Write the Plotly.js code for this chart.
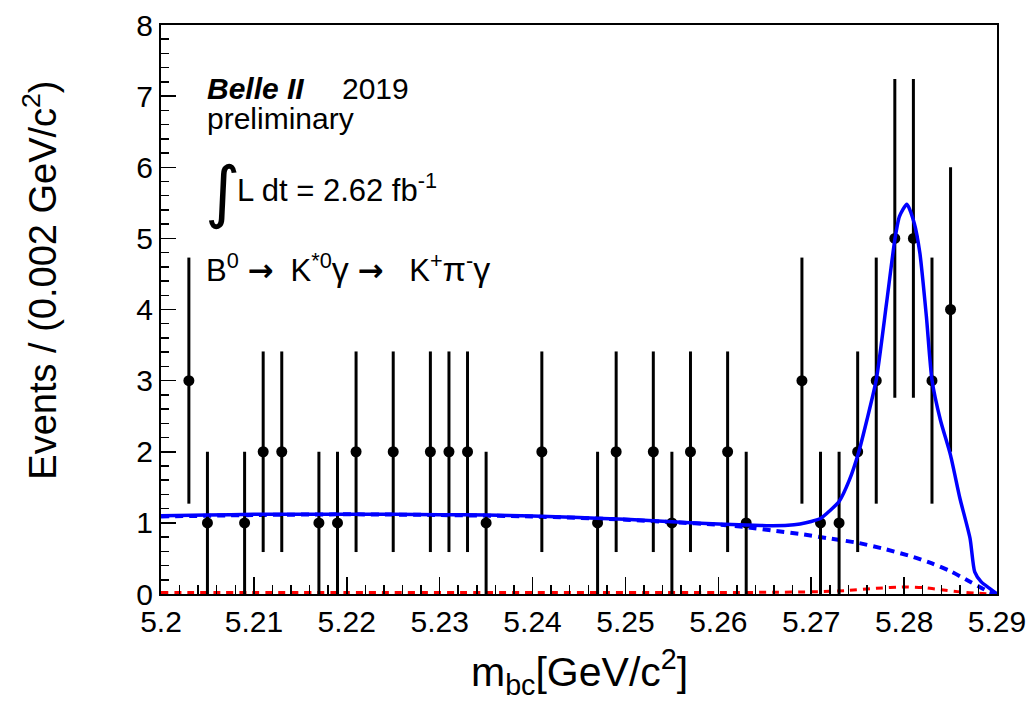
<!DOCTYPE html>
<html>
<head>
<meta charset="utf-8">
<script src="https://cdn.plot.ly/plotly-3.0.1.min.js"></script>
<style>html,body{margin:0;padding:0;background:#fff;}#chart{width:1036px;height:701px;}</style>
</head>
<body>
<div id="chart"></div>
<script>
// Data points (bin centres, bin width 0.002 GeV/c^2)
var binCenters = [5.203,5.205,5.209,5.211,5.213,5.217,5.219,5.221,5.225,5.229,5.231,5.233,5.235,5.241,5.247,5.249,5.253,5.255,5.257,5.261,5.263,5.269,5.271,5.273,5.275,5.277,5.279,5.281,5.283,5.285];
var eventCounts = [3,1,1,2,2,1,1,2,2,2,2,2,1,2,1,2,2,1,2,2,1,3,1,1,2,3,5,5,3,4];
var eventErrors = [1.73,1,1,1.41,1.41,1,1,1.41,1.41,1.41,1.41,1.41,1,1.41,1,1.41,1.41,1,1.41,1.41,1,1.73,1,1,1.41,1.73,2.24,2.24,1.73,2];

// Total fit curve
var totalX = [5.200,5.205,5.210,5.215,5.220,5.225,5.230,5.235,5.240,5.245,5.250,5.255,5.260,5.263,5.2655,5.2675,5.2688,5.270,5.2711,5.272,5.273,5.2741,5.2751,5.276,5.277,5.2781,5.279,5.2795,5.2803,5.2811,5.2817,5.2824,5.283,5.2839,5.285,5.286,5.2871,5.2876,5.2883,5.2892,5.290];
var totalY = [1.10,1.11,1.12,1.12,1.12,1.12,1.115,1.11,1.095,1.075,1.05,1.015,0.985,0.97,0.96,0.965,0.985,1.02,1.07,1.17,1.30,1.60,1.99,2.45,3.01,4.08,4.98,5.31,5.48,5.21,4.79,3.90,3.01,2.45,1.95,1.35,0.78,0.31,0.17,0.08,0.0];

// Background component (blue dashed)
var bkgX = [5.200,5.210,5.220,5.230,5.240,5.250,5.255,5.260,5.263,5.266,5.269,5.272,5.275,5.278,5.281,5.283,5.285,5.287,5.288,5.289,5.290];
var bkgY = [1.09,1.11,1.12,1.11,1.09,1.045,1.01,0.975,0.94,0.89,0.84,0.78,0.72,0.63,0.52,0.43,0.32,0.18,0.11,0.04,0.0];

// Peaking background component (red dashed)
var peakX = [5.200,5.220,5.240,5.260,5.266,5.270,5.274,5.277,5.280,5.282,5.284,5.286,5.288,5.290];
var peakY = [0.02,0.02,0.02,0.02,0.025,0.03,0.05,0.08,0.10,0.09,0.06,0.03,0.01,0.0];

var xTickVals = [5.2,5.21,5.22,5.23,5.24,5.25,5.26,5.27,5.28,5.29];
var xTickText = ['5.2','5.21','5.22','5.23','5.24','5.25','5.26','5.27','5.28','5.29'];
var yTickVals = [0,1,2,3,4,5,6,7,8];

var FONT = 'Liberation Sans, Arial, Helvetica, sans-serif';
var ARROW = '<span style="font-family:DejaVu Sans;font-weight:bold">\u2192</span>';
var SP = '&nbsp;';

var traces = [
  {x: peakX, y: peakY, mode: 'lines', line: {color: '#ff0000', width: 3, dash: '7px,6px', shape: 'spline', smoothing: 0.6}, hoverinfo: 'skip'},
  {x: bkgX, y: bkgY, mode: 'lines', line: {color: '#0000ff', width: 4, dash: '8px,6px', shape: 'spline', smoothing: 0.6}, hoverinfo: 'skip'},
  {x: binCenters, y: eventCounts, mode: 'markers', marker: {color: '#000', size: 11},
   error_y: {type: 'data', array: eventErrors, visible: true, color: '#000', thickness: 3, width: 0}},
  {x: totalX, y: totalY, mode: 'lines', line: {color: '#0000ff', width: 3.5, shape: 'spline', smoothing: 0.6}, hoverinfo: 'skip'}
];

var layout = {
  width: 1036, height: 701,
  margin: {l: 161, r: 39, t: 25, b: 107},
  paper_bgcolor: '#fff', plot_bgcolor: '#fff',
  showlegend: false,
  font: {family: FONT, color: '#000', size: 30},
  xaxis: {
    range: [5.2, 5.29], tickvals: xTickVals, ticktext: xTickText,
    ticks: 'inside', ticklen: 17, tickwidth: 1.5, tickcolor: '#000',
    minor: {dtick: 0.002, tick0: 5.2, ticks: 'inside', ticklen: 9, tickwidth: 1.5, tickcolor: '#000'},
    showline: true, linecolor: '#000', linewidth: 2, mirror: true,
    showgrid: false, zeroline: false,
    tickfont: {family: FONT, size: 30, color: '#000'}
  },
  yaxis: {
    range: [0, 8], tickvals: yTickVals,
    ticks: 'inside', ticklen: 15, tickwidth: 1.5, tickcolor: '#000',
    minor: {dtick: 0.2, tick0: 0, ticks: 'inside', ticklen: 8, tickwidth: 1.5, tickcolor: '#000'},
    showline: true, linecolor: '#000', linewidth: 2, mirror: true,
    showgrid: false, zeroline: false,
    tickfont: {family: FONT, size: 30, color: '#000'}
  },
  annotations: [
    {xref: 'paper', yref: 'paper', x: 0.053, y: 0.889, xanchor: 'left', yanchor: 'middle', showarrow: false,
     text: '<b><i>Belle II</i></b>', font: {family: FONT, size: 30, color: '#000'}},
    {xref: 'paper', yref: 'paper', x: 0.214, y: 0.889, xanchor: 'left', yanchor: 'middle', showarrow: false,
     text: '2019', font: {family: FONT, size: 30, color: '#000'}},
    {xref: 'paper', yref: 'paper', x: 0.053, y: 0.836, xanchor: 'left', yanchor: 'middle', showarrow: false,
     text: 'preliminary', font: {family: FONT, size: 30, color: '#000'}},
    {xref: 'paper', yref: 'paper', x: 0.050, y: 0.708, xanchor: 'left', yanchor: 'middle', showarrow: false,
     text: '\u222B', font: {family: 'DejaVu Sans, sans-serif', size: 68, color: '#000'}},
    {xref: 'paper', yref: 'paper', x: 0.088, y: 0.713, xanchor: 'left', yanchor: 'middle', showarrow: false,
     text: 'L dt = 2.62 fb<sup>-1</sup>', font: {family: FONT, size: 31, color: '#000'}},
    {xref: 'paper', yref: 'paper', x: 0.052, y: 0.573, xanchor: 'left', yanchor: 'middle', showarrow: false,
     text: 'B<sup>0</sup>' + SP + ARROW + SP + SP + 'K<sup>*0</sup><span style="font-size:34px">\u03B3</span>' + SP + ARROW + SP + SP + SP + 'K<sup>+</sup><span style="font-size:34px">\u03C0</span><sup>-</sup><span style="font-size:34px">\u03B3</span>',
     font: {family: FONT, size: 31, color: '#000'}},
    {xref: 'paper', yref: 'paper', x: 0.5, y: -0.137, xanchor: 'center', yanchor: 'middle', showarrow: false,
     text: 'm<sub>bc</sub>[GeV/c<sup>2</sup>]', font: {family: FONT, size: 41, color: '#000'}},
    {xref: 'paper', yref: 'paper', x: -0.145, y: 0.552, xanchor: 'center', yanchor: 'middle', showarrow: false, textangle: -90,
     text: 'Events / (0.002 GeV/c<sup>2</sup>)', font: {family: FONT, size: 38, color: '#000'}}
  ]
};

Plotly.newPlot('chart', traces, layout, {displayModeBar: false, staticPlot: true});
</script>
</body>
</html>
